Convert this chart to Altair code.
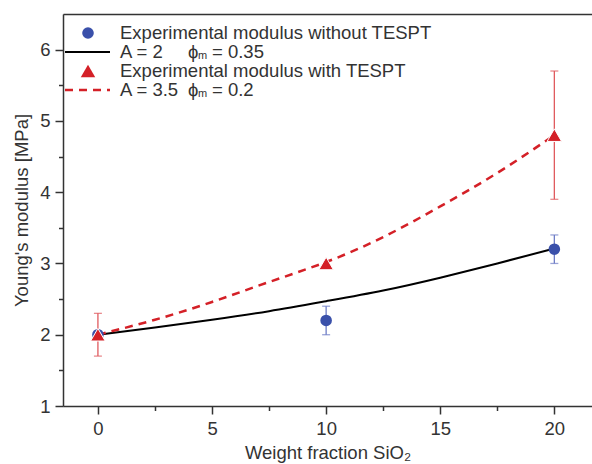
import altair as alt
import pandas as pd

# ---- data ----
x_curve = [0, 2.5, 5, 7.5, 10, 12.5, 15, 17.5, 20]
model_a2 = [2.00, 2.10, 2.21, 2.33, 2.47, 2.62, 2.80, 3.00, 3.21]
model_a35 = [2.00, 2.21, 2.46, 2.74, 3.02, 3.37, 3.80, 4.27, 4.80]

x_exp = [0, 10, 20]
mod_without = [2.0, 2.2, 3.2]
err_without = [0.0, 0.2, 0.2]
mod_with = [2.0, 3.0, 4.8]
err_with = [0.3, 0.0, 0.9]

x_major = [0, 5, 10, 15, 20]
x_minor = [2.5, 7.5, 12.5, 17.5]
y_major = [1, 2, 3, 4, 5, 6]
y_minor = [1.5, 2.5, 3.5, 4.5, 5.5]

legend_labels = [
    "Experimental modulus without TESPT",
    "A = 2",
    "Experimental modulus with TESPT",
    "A = 3.5",
]
phi_values = ["= 0.35", "= 0.2"]

BLUE = "#3a50aa"
BLUE_ERR = "#6d7cc6"
RED = "#d42027"
RED_ERR = "#e05a5e"
TXT = "#333333"
FONT = "Liberation Sans"
FS = 18.5

curves = pd.DataFrame({"x": x_curve, "a2": model_a2, "a35": model_a35})
exp_wo = pd.DataFrame({"x": x_exp, "y": mod_without, "e": err_without})
exp_w = pd.DataFrame({"x": x_exp, "y": mod_with, "e": err_with})
exp_wo_err = exp_wo[exp_wo["e"] > 0]
exp_w_err = exp_w[exp_w["e"] > 0]

xs = alt.Scale(domain=[-1.53, 21.65], nice=False, zero=False)
ys = alt.Scale(domain=[1, 6.5], nice=False, zero=False)

ax_common = dict(domainColor=TXT, domainWidth=1.5, tickColor=TXT, tickWidth=1.5,
                 labelFont=FONT, labelFontSize=FS, labelColor=TXT,
                 titleFont=FONT, titleFontSize=FS, titleColor=TXT, titleFontWeight="normal",
                 grid=False)

x_major_axis = alt.Axis(orient="bottom", values=x_major, tickSize=8, labelPadding=5,
                        title="Weight fraction SiO₂", titlePadding=6, format="d", **ax_common)
x_minor_axis = alt.Axis(orient="bottom", values=x_minor, tickSize=4.5, labels=False,
                        domain=False, title=None, tickColor=TXT, tickWidth=1.5, grid=False)
x_top_axis = alt.Axis(orient="top", ticks=False, labels=False, domainColor=TXT,
                      domainWidth=1.5, title=None, grid=False)
y_major_axis = alt.Axis(orient="left", values=y_major, tickSize=8, labelPadding=5,
                        title="Young's modulus [MPa]", titlePadding=8, format="d", **ax_common)
y_minor_axis = alt.Axis(orient="left", values=y_minor, tickSize=4.5, labels=False,
                        domain=False, title=None, tickColor=TXT, tickWidth=1.5, grid=False)

line_a2 = alt.Chart(curves).mark_line(color="black", strokeWidth=2, interpolate="natural").encode(
    x=alt.X("x:Q", scale=xs, axis=x_major_axis),
    y=alt.Y("a2:Q", scale=ys, axis=y_major_axis),
)
line_a35 = alt.Chart(curves).mark_line(color=RED, strokeWidth=2.5, strokeDash=[8, 6],
                                       interpolate="natural").encode(
    x=alt.X("x:Q", scale=xs, axis=x_minor_axis),
    y=alt.Y("a35:Q", scale=ys, axis=y_minor_axis),
)

err_wo = alt.Chart(exp_wo_err).mark_errorbar(ticks={"size": 8, "thickness": 1.3}, thickness=1.3,
                                             color=BLUE_ERR).encode(
    x=alt.X("x:Q", scale=xs, axis=x_top_axis),
    y=alt.Y("y:Q", scale=ys, axis=None),
    yError="e:Q",
)
pts_wo = alt.Chart(exp_wo).mark_point(shape="circle", filled=True, size=135, color=BLUE,
                                      opacity=1).encode(
    x=alt.X("x:Q", scale=xs, axis=None),
    y=alt.Y("y:Q", scale=ys, axis=None),
)
err_w = alt.Chart(exp_w_err).mark_errorbar(ticks={"size": 8, "thickness": 1.3}, thickness=1.3,
                                           color=RED_ERR).encode(
    x=alt.X("x:Q", scale=xs, axis=None),
    y=alt.Y("y:Q", scale=ys, axis=None),
    yError="e:Q",
)
pts_w = alt.Chart(exp_w).mark_point(shape="triangle-up", filled=True, size=210, color=RED,
                                    opacity=1, stroke="white", strokeWidth=1).encode(
    x=alt.X("x:Q", scale=xs, axis=None),
    y=alt.Y("y:Q", scale=ys, axis=None),
)

# ---- manual legend (pixel positions inside the plot area) ----
one = alt.Data(values=[{}])
leg_circle = alt.Chart(one).mark_point(shape="circle", filled=True, size=135, color=BLUE,
                                       opacity=1).encode(x=alt.value(25), y=alt.value(19))
leg_line = alt.Chart(one).mark_rule(color="black", strokeWidth=2).encode(
    x=alt.value(2), x2=alt.value(47), y=alt.value(38))
leg_tri = alt.Chart(one).mark_point(shape="triangle-up", filled=True, size=210, color=RED,
                                    opacity=1).encode(x=alt.value(25), y=alt.value(57))
leg_dash = alt.Chart(one).mark_rule(color=RED, strokeWidth=2.5, strokeDash=[8, 6]).encode(
    x=alt.value(2), x2=alt.value(47), y=alt.value(76))

txt_kw = dict(align="left", baseline="middle", font=FONT, fontSize=FS, color=TXT)
leg_texts = []
for lab, yy in zip(legend_labels, [19, 38, 57, 76]):
    leg_texts.append(alt.Chart(one).mark_text(**txt_kw).encode(
        x=alt.value(57), y=alt.value(yy), text=alt.value(lab)))
for val, yy in zip(phi_values, [38, 76]):
    leg_texts.append(alt.Chart(one).mark_text(**txt_kw).encode(
        x=alt.value(125), y=alt.value(yy), text=alt.value("ϕ")))
    leg_texts.append(alt.Chart(one).mark_text(align="left", baseline="middle", font=FONT,
                                              fontSize=11, color=TXT).encode(
        x=alt.value(135), y=alt.value(yy + 4), text=alt.value("m")))
    leg_texts.append(alt.Chart(one).mark_text(**txt_kw).encode(
        x=alt.value(149), y=alt.value(yy), text=alt.value(val)))

chart = alt.layer(
    line_a2, line_a35, err_wo, pts_wo, err_w, pts_w,
    leg_circle, leg_line, leg_tri, leg_dash, *leg_texts
).resolve_axis(x="independent", y="independent").properties(
    width=529, height=392,
    padding={"left": 63, "top": 14, "right": 0, "bottom": 58},
    autosize="none",
).configure_view(stroke=None).configure(background="white")

chart.save("out.html", embed_options={"renderer": "svg", "actions": False})
